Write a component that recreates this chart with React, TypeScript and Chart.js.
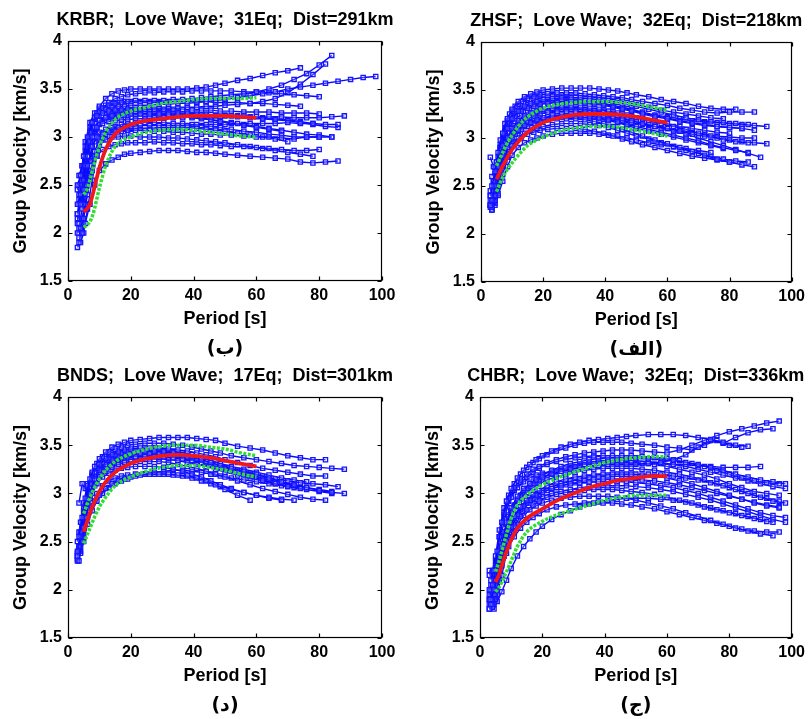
import React, { useEffect, useRef } from "react";
import { Chart, registerables } from "chart.js";

Chart.register(...registerables);

// ---------- shared axes ----------
const PERIODS = [3.5, 4.5, 5.5, 7, 8.5, 10, 12, 14, 16, 18, 20, 23, 26, 29, 32, 35, 38, 41, 44, 47, 50, 54, 58, 62, 66, 70, 74, 78, 82, 86, 90, 94, 98];
const PERIODS_ALT = [3, 4, 5, 6.2, 7.7, 9.2, 11, 13, 15, 17, 19, 21.5, 24.5, 27.5, 30.5, 33.5, 36.5, 39.5, 42.5, 45.5, 48.5, 52, 56, 60, 64, 68, 72, 76, 80, 84, 88, 92, 96];
const MEAN_PERIODS = [5, 6, 7, 8, 10, 12, 15, 20, 25, 30, 35, 40, 45, 50, 55, 60];
const X_TICKS = [0, 20, 40, 60, 80, 100];
const Y_TICKS = [1.5, 2, 2.5, 3, 3.5, 4];

// ---------- KRBR (ب) ----------
const KRBR_TITLE = "KRBR;  Love Wave;  31Eq;  Dist=291km";
const KRBR_LABEL = "(ب)";
const KRBR_CURVES = [
  [1.95, 2.0, 2.1, 2.3, 2.5, 2.65, 2.72, 2.76, 2.79, 2.82, 2.83, 2.84, 2.85, 2.86, 2.86, 2.86, 2.85, 2.84, 2.84, 2.83, 2.82, 2.81, 2.8, 2.79, 2.78, 2.77, 2.74, 2.73, 2.74, 2.75],
  [2.0, 2.05, 2.15, 2.4, 2.65, 2.8, 2.87, 2.9, 2.92, 2.93, 2.94, 2.94, 2.94, 2.95, 2.94, 2.94, 2.93, 2.93, 2.92, 2.92, 2.91, 2.9, 2.9, 2.89, 2.88, 2.87, 2.86, 2.86, 2.87],
  [2.1, 2.15, 2.3, 2.55, 2.8, 2.92, 2.97, 3.0, 3.0, 3.01, 3.01, 3.0, 3.0, 3.0, 2.99, 2.99, 2.98, 2.97, 2.96, 2.95, 2.94, 2.92, 2.9, 2.88, 2.86, 2.84, 2.82, 2.8],
  [2.2, 2.3, 2.45, 2.7, 2.9, 3.0, 3.03, 3.05, 3.06, 3.06, 3.07, 3.07, 3.07, 3.06, 3.06, 3.05, 3.05, 3.04, 3.03, 3.03, 3.02, 3.02, 3.01, 3.0, 3.0, 2.99, 2.98, 3.0, 3.0, 3.0],
  [2.05, 2.25, 2.5, 2.75, 2.95, 3.05, 3.08, 3.1, 3.1, 3.11, 3.11, 3.12, 3.12, 3.12, 3.12, 3.12, 3.12, 3.13, 3.13, 3.13, 3.13, 3.14, 3.14, 3.14, 3.14, 3.15, 3.14, 3.14, 3.13, 3.13],
  [2.3, 2.4, 2.55, 2.8, 3.0, 3.1, 3.14, 3.16, 3.17, 3.18, 3.18, 3.19, 3.19, 3.2, 3.2, 3.2, 3.2, 3.21, 3.21, 3.21, 3.21, 3.22, 3.22, 3.21, 3.21, 3.21, 3.2, 3.2, 3.2, 3.21, 3.22],
  [2.4, 2.5, 2.7, 2.95, 3.1, 3.17, 3.2, 3.22, 3.23, 3.23, 3.24, 3.24, 3.24, 3.24, 3.24, 3.24, 3.24, 3.23, 3.23, 3.22, 3.22, 3.21, 3.2, 3.19, 3.18, 3.17, 3.15, 3.13, 3.11, 3.1],
  [2.5, 2.6, 2.8, 3.0, 3.15, 3.22, 3.25, 3.27, 3.28, 3.28, 3.29, 3.29, 3.29, 3.29, 3.29, 3.29, 3.29, 3.28, 3.28, 3.28, 3.27, 3.27, 3.26, 3.26, 3.26, 3.25, 3.25, 3.25, 3.24],
  [2.6, 2.7, 2.9, 3.05, 3.2, 3.26, 3.29, 3.31, 3.32, 3.32, 3.33, 3.33, 3.33, 3.34, 3.34, 3.35, 3.35, 3.36, 3.37, 3.38, 3.39, 3.41, 3.43, 3.45, 3.47, 3.5, 3.52, 3.54, 3.56, 3.58, 3.6, 3.62, 3.63],
  [2.2, 2.45, 2.7, 2.95, 3.15, 3.25, 3.3, 3.33, 3.35, 3.36, 3.37, 3.38, 3.38, 3.38, 3.38, 3.39, 3.39, 3.4, 3.41, 3.42, 3.43, 3.44, 3.45, 3.47, 3.5, 3.54, 3.6, 3.66, 3.75, 3.85],
  [2.3, 2.5, 2.75, 3.0, 3.2, 3.32, 3.4, 3.45, 3.48, 3.49, 3.5, 3.5, 3.5, 3.5, 3.5, 3.5, 3.5, 3.51, 3.52, 3.54, 3.56, 3.59, 3.61, 3.64, 3.67, 3.69, 3.72],
  [2.1, 2.4, 2.65, 2.9, 3.1, 3.22, 3.3, 3.36, 3.4, 3.42, 3.44, 3.45, 3.46, 3.46, 3.47, 3.47, 3.47, 3.48, 3.48, 3.48, 3.48, 3.48, 3.47, 3.47, 3.46, 3.45, 3.44, 3.43, 3.42],
  [1.9, 2.1, 2.4, 2.75, 3.0, 3.13, 3.2, 3.24, 3.26, 3.27, 3.28, 3.28, 3.29, 3.3, 3.3, 3.3, 3.31, 3.31, 3.32, 3.32, 3.33, 3.34, 3.35, 3.37, 3.4, 3.46, 3.55, 3.65, 3.76],
  [1.85, 1.9, 2.0, 2.25, 2.55, 2.8, 2.98, 3.07, 3.11, 3.13, 3.14, 3.15, 3.15, 3.15, 3.15, 3.14, 3.14, 3.13, 3.12, 3.11, 3.1, 3.08, 3.06, 3.05, 3.03, 3.02, 3.0, 3.0, 3.0],
  [2.0, 2.1, 2.3, 2.6, 2.85, 2.98, 3.03, 3.05, 3.07, 3.08, 3.08, 3.09, 3.09, 3.1, 3.1, 3.1, 3.1, 3.09, 3.08, 3.07, 3.06, 3.04, 3.02, 3.0, 2.98, 2.95],
  [2.45, 2.6, 2.8, 2.62, 2.9, 3.08, 3.17, 3.21, 3.24, 3.26, 3.27, 3.27, 3.27, 3.26, 3.26, 3.25, 3.24, 3.22, 3.2, 3.18, 3.16, 3.14, 3.12, 3.1, 3.08, 3.06],
  [2.35, 2.55, 2.85, 3.1, 3.2, 3.24, 3.26, 3.27, 3.27, 3.27, 3.27, 3.27, 3.26, 3.26, 3.26, 3.25, 3.25, 3.24, 3.24, 3.23, 3.23, 3.22, 3.21, 3.2, 3.19, 3.18, 3.16, 3.14],
  [2.15, 2.35, 2.6, 2.85, 3.05, 3.14, 3.18, 3.2, 3.21, 3.22, 3.22, 3.22, 3.22, 3.22, 3.22, 3.21, 3.21, 3.2, 3.19, 3.18, 3.17, 3.15, 3.13, 3.11, 3.09, 3.07, 3.05, 3.03, 3.02, 3.0],
  [2.5, 2.7, 2.95, 3.15, 3.25, 3.3, 3.33, 3.35, 3.36, 3.37, 3.37, 3.37, 3.37, 3.37, 3.37, 3.37, 3.37, 3.37, 3.37, 3.36, 3.36, 3.36, 3.35, 3.35, 3.34, 3.33, 3.32],
];
const KRBR_MEAN = [2.22, 2.25, 2.3, 2.42, 2.68, 2.87, 3.03, 3.13, 3.17, 3.19, 3.21, 3.22, 3.22, 3.22, 3.21, 3.2];
const KRBR_UPPER = [2.4, 2.45, 2.55, 2.68, 2.9, 3.05, 3.18, 3.27, 3.31, 3.35, 3.37, 3.39, 3.4, 3.4, 3.4, 3.41];
const KRBR_LOWER = [2.06, 2.08, 2.12, 2.2, 2.47, 2.7, 2.9, 3.0, 3.05, 3.07, 3.08, 3.07, 3.05, 3.03, 3.01, 3.0];

// ---------- ZHSF (الف) ----------
const ZHSF_TITLE = "ZHSF;  Love Wave;  32Eq;  Dist=218km";
const ZHSF_LABEL = "(الف)";
const ZHSF_CURVES = [
  [2.5, 2.65, 2.85, 3.05, 3.2, 3.3, 3.38, 3.43, 3.46, 3.48, 3.5, 3.51, 3.52, 3.52, 3.52, 3.52, 3.51, 3.5, 3.49, 3.47, 3.45, 3.43, 3.4, 3.38, 3.36, 3.33, 3.31, 3.3, 3.3],
  [2.4, 2.55, 2.75, 2.98, 3.15, 3.25, 3.33, 3.38, 3.41, 3.43, 3.45, 3.46, 3.47, 3.47, 3.47, 3.46, 3.45, 3.44, 3.43, 3.42, 3.4, 3.38, 3.36, 3.34, 3.31, 3.29, 3.27, 3.26, 3.27, 3.27, 3.27],
  [2.35, 2.5, 2.7, 2.92, 3.1, 3.2, 3.28, 3.33, 3.36, 3.38, 3.4, 3.41, 3.42, 3.42, 3.42, 3.41, 3.4, 3.39, 3.37, 3.35, 3.33, 3.3, 3.27, 3.24, 3.21, 3.19, 3.17, 3.16, 3.15, 3.14],
  [2.3, 2.45, 2.65, 2.88, 3.05, 3.15, 3.23, 3.28, 3.31, 3.33, 3.35, 3.36, 3.37, 3.37, 3.37, 3.36, 3.35, 3.34, 3.32, 3.3, 3.28, 3.25, 3.22, 3.2, 3.17, 3.15, 3.13, 3.12, 3.11, 3.1, 3.08],
  [2.28, 2.4, 2.6, 2.82, 3.0, 3.1, 3.18, 3.23, 3.26, 3.28, 3.3, 3.31, 3.32, 3.32, 3.32, 3.31, 3.3, 3.28, 3.26, 3.24, 3.21, 3.18, 3.15, 3.12, 3.09, 3.05, 3.02, 2.98, 2.96, 2.95],
  [2.3, 2.38, 2.55, 2.78, 2.95, 3.05, 3.13, 3.18, 3.21, 3.23, 3.25, 3.27, 3.28, 3.28, 3.28, 3.27, 3.26, 3.24, 3.22, 3.2, 3.18, 3.15, 3.12, 3.1, 3.07, 3.04, 3.02, 3.0, 2.98, 2.96, 2.95, 2.94],
  [2.25, 2.35, 2.5, 2.72, 2.9, 3.0, 3.08, 3.13, 3.16, 3.19, 3.21, 3.23, 3.24, 3.24, 3.24, 3.23, 3.21, 3.19, 3.17, 3.14, 3.12, 3.09, 3.06, 3.03, 3.0, 2.97, 2.93, 2.9, 2.87, 2.85],
  [2.28, 2.33, 2.45, 2.68, 2.86, 2.96, 3.04, 3.09, 3.12, 3.15, 3.17, 3.19, 3.2, 3.2, 3.2, 3.19, 3.17, 3.15, 3.12, 3.09, 3.06, 3.02, 2.98, 2.94, 2.9, 2.86, 2.82, 2.78, 2.75, 2.72, 2.7],
  [2.25, 2.32, 2.42, 2.62, 2.8, 2.92, 3.0, 3.05, 3.08, 3.1, 3.12, 3.14, 3.15, 3.15, 3.15, 3.14, 3.13, 3.11, 3.08, 3.05, 3.02, 2.99, 2.95, 2.91, 2.87, 2.84, 2.81, 2.78, 2.76, 2.75],
  [2.3, 2.35, 2.45, 2.6, 2.76, 2.88, 2.96, 3.01, 3.04, 3.06, 3.08, 3.09, 3.1, 3.1, 3.1, 3.09, 3.07, 3.05, 3.02, 2.99, 2.96, 2.93, 2.9, 2.87, 2.84, 2.81, 2.79, 2.77, 2.75],
  [2.26, 2.3, 2.4, 2.55, 2.7, 2.82, 2.9, 2.95, 2.98, 3.0, 3.02, 3.04, 3.05, 3.05, 3.05, 3.05, 3.04, 3.03, 3.02, 3.0, 2.98, 2.95, 2.93, 2.91, 2.89, 2.87, 2.85],
  [2.8, 2.7, 2.75, 2.9, 3.03, 3.12, 3.2, 3.24, 3.27, 3.29, 3.3, 3.31, 3.31, 3.31, 3.31, 3.3, 3.29, 3.28, 3.26, 3.24, 3.22, 3.2, 3.17, 3.15, 3.12, 3.1, 3.08, 3.06, 3.05],
  [2.6, 2.7, 2.8, 3.0, 3.18, 3.28, 3.35, 3.4, 3.43, 3.44, 3.45, 3.45, 3.45, 3.45, 3.44, 3.43, 3.42, 3.41, 3.39, 3.37, 3.35, 3.32, 3.29, 3.27, 3.25, 3.23, 3.21, 3.2],
  [2.35, 2.42, 2.55, 2.75, 2.92, 3.02, 3.1, 3.15, 3.18, 3.2, 3.21, 3.22, 3.23, 3.23, 3.23, 3.23, 3.22, 3.21, 3.2, 3.18, 3.16, 3.14, 3.12, 3.1, 3.08, 3.06, 3.04, 3.02, 3.01, 3.0, 3.0],
  [2.32, 2.42, 2.6, 2.8, 2.97, 3.07, 3.15, 3.2, 3.24, 3.26, 3.28, 3.29, 3.3, 3.3, 3.29, 3.28, 3.27, 3.25, 3.23, 3.2, 3.17, 3.14, 3.1, 3.07, 3.04, 3.0, 2.96, 2.92, 2.88, 2.84, 2.8],
  [2.4, 2.5, 2.68, 2.9, 3.07, 3.17, 3.25, 3.3, 3.33, 3.35, 3.36, 3.37, 3.38, 3.38, 3.38, 3.37, 3.36, 3.35, 3.33, 3.31, 3.29, 3.26, 3.23, 3.21, 3.18, 3.16, 3.14, 3.12, 3.11, 3.1],
  [2.3, 2.36, 2.5, 2.7, 2.88, 2.99, 3.07, 3.12, 3.15, 3.17, 3.19, 3.21, 3.22, 3.22, 3.22, 3.21, 3.2, 3.18, 3.16, 3.13, 3.1, 3.07, 3.04, 3.01, 2.98, 2.95, 2.92, 2.89],
  [2.45, 2.55, 2.72, 2.93, 3.1, 3.2, 3.27, 3.32, 3.35, 3.37, 3.39, 3.4, 3.41, 3.41, 3.4, 3.39, 3.38, 3.36, 3.34, 3.32, 3.3, 3.27, 3.24, 3.22, 3.2, 3.18, 3.17, 3.16, 3.15, 3.14, 3.13, 3.12],
];
const ZHSF_MEAN = [2.57, 2.64, 2.71, 2.77, 2.88, 2.96, 3.06, 3.16, 3.21, 3.24, 3.25, 3.25, 3.24, 3.22, 3.19, 3.16];
const ZHSF_UPPER = [2.71, 2.78, 2.85, 2.92, 3.03, 3.12, 3.22, 3.31, 3.35, 3.37, 3.38, 3.38, 3.37, 3.35, 3.32, 3.29];
const ZHSF_LOWER = [2.44, 2.52, 2.59, 2.65, 2.74, 2.82, 2.92, 3.01, 3.07, 3.1, 3.12, 3.12, 3.11, 3.08, 3.05, 3.02];

// ---------- BNDS (د) ----------
const BNDS_TITLE = "BNDS;  Love Wave;  17Eq;  Dist=301km";
const BNDS_LABEL = "(د)";
const BNDS_CURVES = [
  [2.55, 2.75, 2.95, 3.15, 3.28, 3.36, 3.43, 3.48, 3.51, 3.53, 3.55, 3.56, 3.57, 3.58, 3.58, 3.58, 3.58, 3.57, 3.56, 3.55, 3.52, 3.49, 3.47, 3.45, 3.42, 3.39, 3.37, 3.35, 3.35],
  [2.4, 2.6, 2.85, 3.08, 3.22, 3.31, 3.38, 3.43, 3.46, 3.48, 3.5, 3.51, 3.52, 3.52, 3.52, 3.51, 3.5, 3.48, 3.46, 3.44, 3.42, 3.39, 3.37, 3.35, 3.33, 3.31, 3.29, 3.28, 3.27, 3.26, 3.25],
  [2.45, 2.65, 2.88, 3.1, 3.22, 3.3, 3.36, 3.4, 3.43, 3.45, 3.46, 3.47, 3.47, 3.47, 3.46, 3.45, 3.44, 3.42, 3.4, 3.38, 3.35, 3.32, 3.29, 3.26, 3.24, 3.22, 3.2, 3.18, 3.18],
  [2.35, 2.55, 2.8, 3.05, 3.18, 3.26, 3.32, 3.37, 3.4, 3.42, 3.43, 3.44, 3.44, 3.44, 3.43, 3.42, 3.4, 3.38, 3.35, 3.32, 3.29, 3.26, 3.23, 3.2, 3.16, 3.12, 3.09, 3.06, 3.03, 3.01, 3.0],
  [2.3, 2.5, 2.75, 3.0, 3.15, 3.24, 3.3, 3.35, 3.38, 3.4, 3.41, 3.42, 3.42, 3.42, 3.41, 3.4, 3.38, 3.36, 3.33, 3.3, 3.26, 3.22, 3.18, 3.14, 3.1, 3.07, 3.05],
  [2.5, 2.7, 2.9, 3.1, 3.2, 3.26, 3.31, 3.34, 3.36, 3.37, 3.38, 3.38, 3.38, 3.38, 3.38, 3.37, 3.36, 3.34, 3.32, 3.3, 3.27, 3.24, 3.2, 3.17, 3.14, 3.11, 3.08, 3.06, 3.04, 3.02],
  [2.4, 2.55, 2.75, 2.95, 3.08, 3.17, 3.23, 3.27, 3.3, 3.32, 3.33, 3.33, 3.33, 3.33, 3.32, 3.3, 3.28, 3.26, 3.23, 3.2, 3.17, 3.13, 3.09, 3.05, 3.02, 2.99, 2.96, 2.94, 2.93],
  [2.35, 2.45, 2.65, 2.85, 3.0, 3.1, 3.17, 3.21, 3.24, 3.26, 3.27, 3.28, 3.28, 3.28, 3.27, 3.25, 3.23, 3.2, 3.17, 3.13, 3.09, 3.05, 3.01, 2.98, 2.95, 2.93],
  [2.6, 2.7, 2.8, 2.87, 2.92, 2.98, 3.05, 3.1, 3.13, 3.15, 3.17, 3.19, 3.2, 3.2, 3.2, 3.19, 3.18, 3.16, 3.13, 3.09, 3.04, 2.98, 2.93],
  [2.32, 2.4, 2.55, 2.75, 2.9, 3.0, 3.08, 3.13, 3.16, 3.18, 3.19, 3.2, 3.2, 3.2, 3.2, 3.19, 3.18, 3.16, 3.13, 3.1, 3.07, 3.04, 3.01, 2.98, 2.96, 2.94, 2.93],
  [2.9, 3.1, 3.05, 3.1, 3.18, 3.25, 3.3, 3.34, 3.37, 3.39, 3.4, 3.41, 3.41, 3.41, 3.4, 3.39, 3.37, 3.35, 3.33, 3.3, 3.27, 3.24, 3.21, 3.18, 3.15, 3.13, 3.11, 3.1, 3.09, 3.07],
  [2.3, 2.38, 2.5, 2.68, 2.82, 2.92, 3.0, 3.06, 3.1, 3.13, 3.15, 3.18, 3.2, 3.22, 3.23, 3.24, 3.24, 3.23, 3.22, 3.2, 3.18, 3.16, 3.14, 3.12, 3.1, 3.08, 3.06, 3.04, 3.02, 3.0],
  [2.45, 2.62, 2.82, 3.02, 3.14, 3.22, 3.28, 3.32, 3.35, 3.37, 3.39, 3.4, 3.4, 3.4, 3.39, 3.38, 3.36, 3.34, 3.31, 3.28, 3.25, 3.22, 3.19, 3.16],
  [2.38, 2.58, 2.82, 3.05, 3.18, 3.27, 3.33, 3.38, 3.41, 3.43, 3.45, 3.46, 3.46, 3.46, 3.45, 3.44, 3.42, 3.4, 3.37, 3.34, 3.31, 3.28, 3.25, 3.22, 3.19, 3.16, 3.14, 3.12],
  [2.42, 2.55, 2.75, 2.97, 3.1, 3.19, 3.25, 3.29, 3.32, 3.34, 3.35, 3.36, 3.36, 3.36, 3.35, 3.34, 3.32, 3.3, 3.28, 3.25, 3.22, 3.19, 3.16, 3.13, 3.1, 3.08, 3.06],
];
const BNDS_MEAN = [2.6, 2.7, 2.8, 2.88, 3.02, 3.12, 3.22, 3.31, 3.36, 3.39, 3.4, 3.39, 3.37, 3.34, 3.31, 3.28];
const BNDS_UPPER = [2.79, 2.88, 2.96, 3.03, 3.15, 3.24, 3.33, 3.41, 3.46, 3.49, 3.5, 3.5, 3.48, 3.46, 3.42, 3.39];
const BNDS_LOWER = [2.48, 2.56, 2.64, 2.72, 2.86, 2.96, 3.08, 3.17, 3.23, 3.27, 3.29, 3.29, 3.27, 3.24, 3.2, 3.17];

// ---------- CHBR (ج) ----------
const CHBR_TITLE = "CHBR;  Love Wave;  32Eq;  Dist=336km";
const CHBR_LABEL = "(ج)";
const CHBR_CURVES = [
  [2.1, 2.2, 2.4, 2.7, 2.92, 3.05, 3.16, 3.24, 3.3, 3.35, 3.39, 3.44, 3.48, 3.51, 3.53, 3.55, 3.56, 3.57, 3.58, 3.59, 3.6, 3.61, 3.61, 3.61, 3.6, 3.58, 3.56, 3.53, 3.5, 3.49],
  [2.0, 2.05, 2.25, 2.55, 2.8, 2.95, 3.06, 3.14, 3.2, 3.25, 3.28, 3.32, 3.35, 3.38, 3.4, 3.42, 3.43, 3.44, 3.45, 3.45, 3.45, 3.44, 3.43, 3.42, 3.45, 3.5, 3.55, 3.6, 3.64, 3.67, 3.7, 3.73, 3.75],
  [1.9, 2.0, 2.2, 2.45, 2.7, 2.85, 2.97, 3.05, 3.1, 3.14, 3.17, 3.2, 3.23, 3.25, 3.27, 3.28, 3.29, 3.3, 3.3, 3.3, 3.3, 3.31, 3.32, 3.35, 3.4, 3.48, 3.55, 3.52, 3.58, 3.63, 3.66, 3.67],
  [2.15, 2.2, 2.35, 2.62, 2.85, 2.98, 3.1, 3.2, 3.27, 3.32, 3.36, 3.4, 3.44, 3.47, 3.5, 3.52, 3.53, 3.53, 3.53, 3.53, 3.52, 3.51, 3.5, 3.48, 3.47, 3.45, 3.5, 3.55, 3.5, 3.48],
  [1.85, 1.95, 2.15, 2.45, 2.68, 2.82, 2.94, 3.03, 3.1, 3.15, 3.19, 3.24, 3.28, 3.31, 3.33, 3.35, 3.36, 3.37, 3.37, 3.37, 3.37, 3.36, 3.35, 3.34, 3.32, 3.3, 3.27, 3.24, 3.2, 3.17, 3.14, 3.12, 3.1],
  [1.9, 1.9, 2.05, 2.35, 2.6, 2.76, 2.88, 2.98, 3.05, 3.1, 3.14, 3.19, 3.23, 3.26, 3.28, 3.3, 3.31, 3.32, 3.32, 3.32, 3.32, 3.31, 3.3, 3.28, 3.25, 3.22, 3.19, 3.15, 3.1, 3.06, 3.02, 3.0, 2.98],
  [2.0, 2.1, 2.3, 2.6, 2.82, 2.96, 3.06, 3.12, 3.16, 3.19, 3.21, 3.23, 3.25, 3.26, 3.27, 3.28, 3.29, 3.3, 3.31, 3.31, 3.31, 3.31, 3.31, 3.3, 3.3, 3.29, 3.28, 3.27, 3.27, 3.27, 3.28],
  [1.8, 1.85, 1.95, 2.2, 2.45, 2.62, 2.76, 2.86, 2.93, 2.99, 3.03, 3.08, 3.12, 3.15, 3.17, 3.18, 3.19, 3.2, 3.2, 3.2, 3.2, 3.19, 3.18, 3.16, 3.13, 3.1, 3.06, 3.02, 2.98, 2.94, 2.9, 2.87, 2.85],
  [1.85, 1.9, 2.0, 2.25, 2.5, 2.65, 2.78, 2.87, 2.93, 2.98, 3.01, 3.05, 3.08, 3.1, 3.11, 3.12, 3.12, 3.12, 3.12, 3.12, 3.11, 3.1, 3.08, 3.06, 3.03, 3.0, 2.96, 2.92, 2.88, 2.84, 2.8, 2.77, 2.75],
  [1.8, 1.82, 1.9, 2.1, 2.35, 2.52, 2.66, 2.76, 2.83, 2.88, 2.92, 2.96, 2.99, 3.01, 3.02, 3.03, 3.04, 3.04, 3.04, 3.03, 3.02, 3.01, 2.99, 2.96, 2.93, 2.9, 2.86, 2.83, 2.8, 2.77, 2.74, 2.71],
  [1.85, 1.85, 1.95, 2.15, 2.38, 2.55, 2.68, 2.77, 2.83, 2.87, 2.9, 2.93, 2.95, 2.96, 2.97, 2.97, 2.97, 2.97, 2.96, 2.95, 2.93, 2.9, 2.87, 2.84, 2.8, 2.76, 2.72, 2.68, 2.64, 2.61, 2.58, 2.56],
  [1.9, 1.95, 2.05, 2.2, 2.35, 2.45, 2.55, 2.64, 2.7, 2.75, 2.79, 2.83, 2.86, 2.88, 2.89, 2.9, 2.9, 2.9, 2.9, 2.89, 2.88, 2.86, 2.84, 2.81, 2.78, 2.75, 2.72, 2.69, 2.66, 2.63, 2.61, 2.6, 2.6],
  [2.05, 2.1, 2.2, 2.4, 2.6, 2.72, 2.82, 2.9, 2.96, 3.0, 3.03, 3.07, 3.1, 3.13, 3.15, 3.17, 3.18, 3.19, 3.2, 3.2, 3.2, 3.2, 3.19, 3.18, 3.16, 3.14, 3.11, 3.08, 3.04, 3.0, 2.96, 2.92, 2.9],
  [2.2, 2.15, 2.3, 2.55, 2.78, 2.92, 3.03, 3.11, 3.17, 3.22, 3.26, 3.3, 3.33, 3.35, 3.37, 3.38, 3.39, 3.39, 3.39, 3.39, 3.39, 3.38, 3.37, 3.36, 3.34, 3.31, 3.28, 3.24, 3.2, 3.16, 3.13, 3.11, 3.1],
  [1.85, 1.8, 1.88, 1.98, 2.1, 2.22, 2.35, 2.45, 2.53, 2.6, 2.66, 2.73, 2.78, 2.82, 2.86, 2.89, 2.91, 2.93, 2.94, 2.95, 2.95, 2.95, 2.94, 2.93, 2.91, 2.88, 2.85, 2.82, 2.79, 2.76, 2.73, 2.7],
  [1.95, 2.0, 2.12, 2.35, 2.58, 2.74, 2.86, 2.95, 3.01, 3.06, 3.1, 3.14, 3.17, 3.2, 3.22, 3.24, 3.25, 3.26, 3.26, 3.26, 3.26, 3.25, 3.24, 3.22, 3.2, 3.17, 3.14, 3.1, 3.06, 3.02, 2.98, 2.95, 2.92],
  [2.0, 2.05, 2.2, 2.45, 2.68, 2.82, 2.93, 3.01, 3.07, 3.12, 3.16, 3.21, 3.25, 3.28, 3.3, 3.32, 3.33, 3.34, 3.34, 3.34, 3.34, 3.33, 3.32, 3.3, 3.28, 3.25, 3.22, 3.19, 3.16, 3.13, 3.1, 3.07, 3.05],
  [1.85, 1.9, 2.02, 2.25, 2.48, 2.62, 2.74, 2.83, 2.9, 2.95, 2.99, 3.03, 3.06, 3.09, 3.11, 3.13, 3.14, 3.15, 3.15, 3.15, 3.15, 3.14, 3.13, 3.11, 3.09, 3.06, 3.03, 3.0, 2.97, 2.94, 2.91, 2.88, 2.86],
  [1.95, 2.0, 2.1, 2.3, 2.5, 2.64, 2.76, 2.84, 2.9, 2.94, 2.97, 3.0, 3.02, 3.04, 3.06, 3.07, 3.08, 3.08, 3.08, 3.08, 3.07, 3.06, 3.04, 3.02, 2.99, 2.96, 2.93, 2.89, 2.85, 2.81, 2.77, 2.73, 2.7],
];
const CHBR_MEAN = [2.08, 2.15, 2.25, 2.35, 2.52, 2.64, 2.74, 2.84, 2.93, 3.0, 3.06, 3.1, 3.14, 3.16, 3.18, 3.18];
const CHBR_UPPER = [2.19, 2.28, 2.4, 2.52, 2.74, 2.88, 2.98, 3.09, 3.16, 3.22, 3.27, 3.32, 3.35, 3.37, 3.38, 3.38];
const CHBR_LOWER = [1.98, 2.02, 2.08, 2.15, 2.3, 2.45, 2.6, 2.71, 2.78, 2.83, 2.88, 2.93, 2.96, 2.98, 2.98, 2.98];

// ---------- panel layout (positions only) ----------
type PanelCfg = {
  title: string; label: string; curves: number[][]; mean: number[]; upper: number[]; lower: number[];
  left: number; top: number; pad: { left: number; right: number; top: number; bottom: number };
};

const PANELS: PanelCfg[] = [
  { title: KRBR_TITLE, label: KRBR_LABEL, curves: KRBR_CURVES, mean: KRBR_MEAN, upper: KRBR_UPPER, lower: KRBR_LOWER,
    left: 0, top: 0, pad: { left: 32, right: 23, top: 41, bottom: 55 } },
  { title: ZHSF_TITLE, label: ZHSF_LABEL, curves: ZHSF_CURVES, mean: ZHSF_MEAN, upper: ZHSF_UPPER, lower: ZHSF_LOWER,
    left: 405, top: 0, pad: { left: 40, right: 16, top: 42, bottom: 54 } },
  { title: BNDS_TITLE, label: BNDS_LABEL, curves: BNDS_CURVES, mean: BNDS_MEAN, upper: BNDS_UPPER, lower: BNDS_LOWER,
    left: 0, top: 360, pad: { left: 32, right: 23, top: 37, bottom: 58 } },
  { title: CHBR_TITLE, label: CHBR_LABEL, curves: CHBR_CURVES, mean: CHBR_MEAN, upper: CHBR_UPPER, lower: CHBR_LOWER,
    left: 405, top: 360, pad: { left: 39, right: 16, top: 37, bottom: 58 } },
];

const SANS = '"Liberation Sans", Arial, Helvetica, sans-serif';
const Y_AXIS_W = 36;
const X_AXIS_H = 24;

const framePlugin = {
  id: "matlabFrame",
  afterDatasetsDraw(chart: any) {
    const { ctx, chartArea, scales } = chart;
    const { left, right, top, bottom } = chartArea;
    const L = Math.round(left) + 0.5, R = Math.round(right) - 0.5, T = Math.round(top) + 0.5, B = Math.round(bottom) - 0.5;
    ctx.save();
    ctx.strokeStyle = "#000";
    ctx.lineWidth = 1.2;
    ctx.strokeRect(L, T, R - L, B - T);
    const tl = 4;
    ctx.beginPath();
    X_TICKS.forEach((v) => {
      const px = Math.round(scales.x.getPixelForValue(v)) + 0.5;
      ctx.moveTo(px, B); ctx.lineTo(px, B - tl);
      ctx.moveTo(px, T); ctx.lineTo(px, T + tl);
    });
    Y_TICKS.forEach((v) => {
      const py = Math.round(scales.y.getPixelForValue(v)) + 0.5;
      ctx.moveTo(L, py); ctx.lineTo(L + tl, py);
      ctx.moveTo(R, py); ctx.lineTo(R - tl, py);
    });
    ctx.stroke();
    ctx.restore();
  },
  afterDraw(chart: any, _args: any, opts: any) {
    const { ctx, chartArea } = chart;
    const { left, right, top, bottom } = chartArea;
    const cx = (left + right) / 2;
    ctx.save();
    ctx.fillStyle = "#000";
    ctx.textAlign = "center";
    ctx.textBaseline = "middle";
    ctx.font = `bold 18px ${SANS}`;
    ctx.fillText(opts.title, cx, top - 20.5);
    ctx.font = `bold 18px ${SANS}`;
    ctx.fillText("Period [s]", cx, bottom + 38);
    ctx.save();
    ctx.translate(left - 47, (top + bottom) / 2);
    ctx.rotate(-Math.PI / 2);
    ctx.fillText("Group Velocity [km/s]", 0, 0);
    ctx.restore();
    ctx.font = `bold 19px "DejaVu Sans", "Liberation Sans", sans-serif`;
    ctx.fillText(opts.label, cx, bottom + 68.5);
    ctx.restore();
  },
};

function Panel({ cfg }: { cfg: PanelCfg }) {
  const ref = useRef<HTMLCanvasElement>(null);
  useEffect(() => {
    const blue = cfg.curves.map((vals, k) => {
      const grid = k % 2 === 0 ? PERIODS : PERIODS_ALT;
      return {
        data: vals.map((v, i) => ({ x: grid[i], y: v })),
        borderColor: "#0a0aff",
        borderWidth: 1.4,
        pointStyle: "rect",
        pointRadius: 3,
        pointBorderWidth: 1.3,
        pointBorderColor: "#1515ff",
        pointBackgroundColor: "rgba(220,220,255,0.25)",
        tension: 0,
        order: 3,
      };
    });
    const smooth = (vals: number[], color: string, width: number, dash: number[], order: number) => ({
      data: vals.map((v, i) => ({ x: MEAN_PERIODS[i], y: v })),
      borderColor: color,
      borderWidth: width,
      borderDash: dash,
      pointRadius: 0,
      cubicInterpolationMode: "monotone",
      order,
    });
    const chart = new Chart(ref.current as HTMLCanvasElement, {
      type: "line",
      data: {
        datasets: [
          smooth(cfg.mean, "#f01818", 3.8, [], 0),
          smooth(cfg.upper, "#2ee02e", 3.5, [3, 1.5], 1),
          smooth(cfg.lower, "#2ee02e", 3.5, [3, 1.5], 1),
          ...blue,
        ] as any,
      },
      options: {
        animation: false,
        responsive: false,
        devicePixelRatio: 1,
        events: [],
        layout: { padding: cfg.pad },
        plugins: {
          legend: { display: false },
          tooltip: { enabled: false },
          title: { display: false },
          matlabFrame: { title: cfg.title, label: cfg.label },
        } as any,
        scales: {
          x: {
            type: "linear",
            min: 0,
            max: 100,
            grid: { display: false, drawTicks: false },
            border: { display: false },
            ticks: {
              color: "#000",
              padding: 5,
              maxRotation: 0,
              font: { family: SANS, size: 16, weight: "bold" },
              callback: (v: any) => String(v),
            },
            afterBuildTicks: (s: any) => { s.ticks = X_TICKS.map((v) => ({ value: v })); },
            afterFit: (s: any) => { s.height = X_AXIS_H; },
          },
          y: {
            type: "linear",
            min: 1.5,
            max: 4,
            grid: { display: false, drawTicks: false },
            border: { display: false },
            ticks: {
              color: "#000",
              padding: 6,
              font: { family: SANS, size: 16, weight: "bold" },
              callback: (v: any) => String(v),
            },
            afterBuildTicks: (s: any) => { s.ticks = Y_TICKS.map((v) => ({ value: v })); },
            afterFit: (s: any) => { s.width = Y_AXIS_W; },
          },
        },
      } as any,
      plugins: [framePlugin],
    });
    return () => chart.destroy();
  }, [cfg]);
  return (
    <canvas
      ref={ref}
      width={405}
      height={360}
      style={{ position: "absolute", left: cfg.left, top: cfg.top, width: 405, height: 360 }}
    />
  );
}

export default function App() {
  return (
    <div style={{ position: "absolute", left: 0, top: 0, width: 810, height: 719, background: "#fff", overflow: "hidden" }}>
      {PANELS.map((p, i) => (
        <Panel key={i} cfg={p} />
      ))}
    </div>
  );
}
